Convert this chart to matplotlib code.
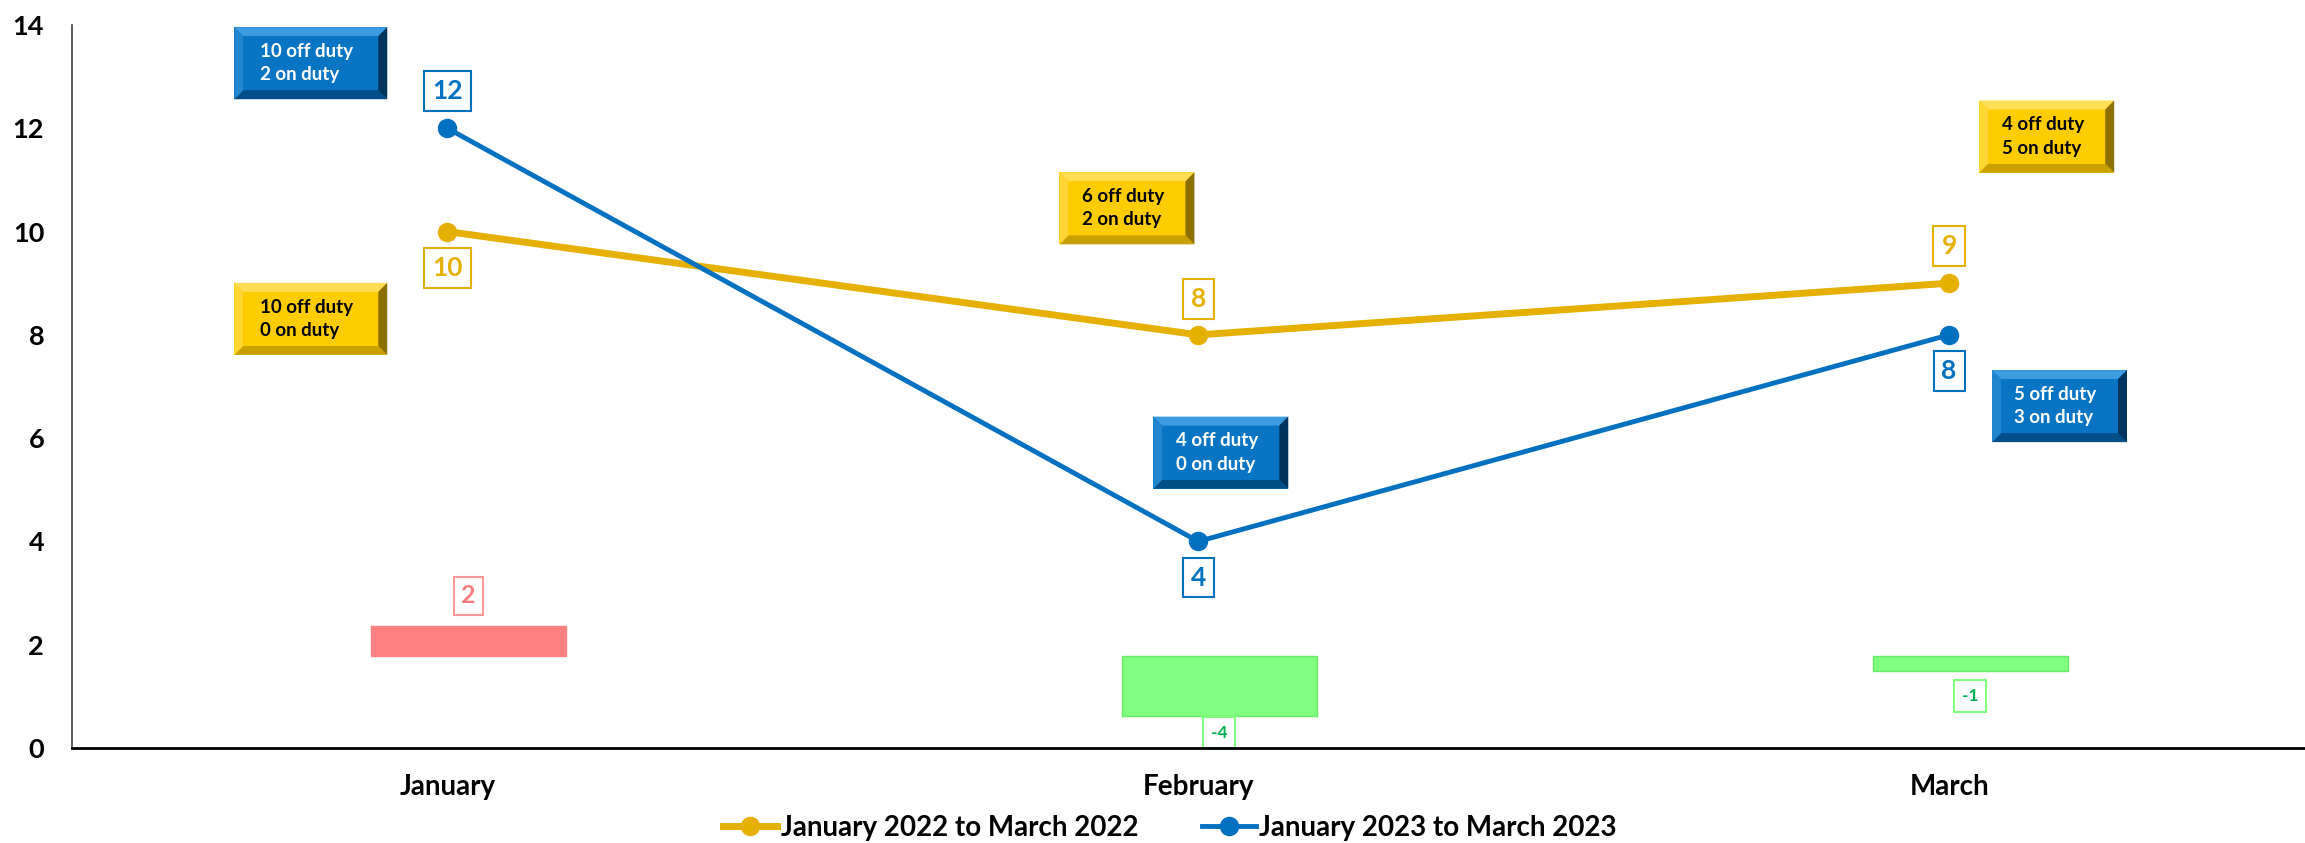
import matplotlib
matplotlib.use("Agg")
import matplotlib.pyplot as plt
from matplotlib.patches import Polygon, Rectangle
import numpy as np

plt.rcParams['font.family'] = ['Lato', 'DejaVu Sans']
plt.rcParams['font.weight'] = 'bold'

months = ['January', 'February', 'March']
series_2022 = [10, 8, 9]
series_2023 = [12, 4, 8]
off_2022 = [10, 6, 4]
on_2022 = [0, 2, 5]
off_2023 = [10, 4, 5]
on_2023 = [2, 0, 3]
y_ticks = [0, 2, 4, 6, 8, 10, 12, 14]
legend_labels = ['January 2022 to March 2022', 'January 2023 to March 2023']

diff = [b - a for a, b in zip(series_2022, series_2023)]

GOLD = '#E6B000'
BLUE = '#0070C0'
RED_BAR = '#FF8080'
GREEN_BAR = '#80FF80'

W, H = 2305, 843
fig = plt.figure(figsize=(W / 100, H / 100), dpi=100)
ax = fig.add_axes([72 / W, 95 / H, (W - 72) / W, 723 / H])
x = np.arange(len(months))

# secondary axis for the difference bars
ax2 = ax.twinx()
ax2.set_ylim(-6.14, 42.14)
ax2.axis('off')
bar_colors = [RED_BAR if d > 0 else GREEN_BAR for d in diff]
bar_edges = [RED_BAR if d > 0 else '#66EE66' for d in diff]
ax2.bar(x + 0.028, diff, width=0.26, color=bar_colors, edgecolor=bar_edges, linewidth=1, zorder=1)
for xi, d in zip(x, diff):
    if d > 0:
        ax2.annotate(str(d), (xi + 0.028, d), xytext=(0, 22), textcoords='offset points',
                     ha='center', va='center', fontsize=18, color='#FF7C80', fontweight='bold',
                     bbox=dict(boxstyle='square,pad=0.3', fc='white', ec='#FF9999', lw=1.5))
    else:
        ax2.annotate(str(d), (xi + 0.028, d), xytext=(0, -12 if d < -2 else -18), textcoords='offset points',
                     ha='center', va='center', fontsize=12.5, color='#00B050', fontweight='bold',
                     bbox=dict(boxstyle='square,pad=0.45', fc='white', ec='#80FF80', lw=1.5))

ax.plot(x, series_2022, color=GOLD, lw=5, marker='o', ms=13, zorder=3, label=legend_labels[0])
ax.plot(x, series_2023, color=BLUE, lw=3.5, marker='o', ms=13, zorder=4, label=legend_labels[1])

ax.set_zorder(ax2.get_zorder() + 1)
ax.patch.set_visible(False)

ax.set_xlim(-0.5, 2.474)
ax.set_ylim(0, 14)
ax.set_yticks(y_ticks)
ax.set_xticks(x)
ax.set_xticklabels(months)
ax.tick_params(axis='both', length=0)
ax.tick_params(axis='y', pad=20, labelsize=19.5)
ax.tick_params(axis='x', pad=19, labelsize=20)
for lab in ax.get_xticklabels() + ax.get_yticklabels():
    lab.set_fontweight('bold')
ax.spines['top'].set_visible(False)
ax.spines['right'].set_visible(False)
ax.spines['left'].set_color('#404040')
ax.spines['left'].set_linewidth(1.2)
ax.spines['bottom'].set_color('black')
ax.spines['bottom'].set_linewidth(2)

# value labels
offs_2022 = [-26, 26, 27]
offs_2023 = [27, -26, -26]
for xi, v, o in zip(x, series_2022, offs_2022):
    ax.annotate(str(v), (xi, v), xytext=(0, o), textcoords='offset points', ha='center', va='center',
                fontsize=19, color=GOLD, fontweight='bold',
                bbox=dict(boxstyle='square,pad=0.3', fc='white', ec=GOLD, lw=1.5), zorder=6)
for xi, v, o in zip(x, series_2023, offs_2023):
    ax.annotate(str(v), (xi, v), xytext=(0, o), textcoords='offset points', ha='center', va='center',
                fontsize=19, color=BLUE, fontweight='bold',
                bbox=dict(boxstyle='square,pad=0.3', fc='white', ec=BLUE, lw=1.5), zorder=6)

# beveled duty info boxes (decoration)
PX_X = 1 / 751.0   # data units per pixel, x
PX_Y = 1 / 51.64   # data units per pixel, y


def bevel_box(cx, cy, wpx, hpx, shades, text, tcolor):
    main, top, left, bottom, right = shades
    w, h = wpx * PX_X, hpx * PX_Y
    dx, dy = 9 * PX_X, 9 * PX_Y
    x0, x1, y0, y1 = cx - w / 2, cx + w / 2, cy - h / 2, cy + h / 2
    polys = [
        ([(x0, y1), (x1, y1), (x1 - dx, y1 - dy), (x0 + dx, y1 - dy)], top),
        ([(x0, y0), (x1, y0), (x1 - dx, y0 + dy), (x0 + dx, y0 + dy)], bottom),
        ([(x0, y0), (x0, y1), (x0 + dx, y1 - dy), (x0 + dx, y0 + dy)], left),
        ([(x1, y0), (x1, y1), (x1 - dx, y1 - dy), (x1 - dx, y0 + dy)], right),
    ]
    ax.add_patch(Rectangle((x0, y0), w, h, fc=main, ec='none', zorder=7))
    for pts, c in polys:
        ax.add_patch(Polygon(pts, closed=True, fc=c, ec='none', zorder=7))
    ax.add_patch(Rectangle((x0 + dx, y0 + dy), w - 2 * dx, h - 2 * dy, fc=main, ec='none', zorder=7))
    ax.text(cx - 4 * PX_X, cy, text, ha='center', va='center', multialignment='left',
            fontsize=13.5, color=tcolor, fontweight='bold', linespacing=1.45, zorder=8)


GOLD_SHADES = ('#FFCC00', '#FFDD55', '#FFD633', '#C9A000', '#8C7000')
BLUE_SHADES = ('#0874C4', '#3D9BE0', '#2286CF', '#004F88', '#00345C')

pos_2022 = [(-0.182, 8.31), (0.905, 10.45), (2.13, 11.84)]
pos_2023 = [(-0.182, 13.26), (1.03, 5.72), (2.147, 6.62)]
widths_px = [153, 135, 135]
for (bx, by), off, on, wp in zip(pos_2022, off_2022, on_2022, widths_px):
    bevel_box(bx, by, wp, 72, GOLD_SHADES, f"{off} off duty\n{on} on duty", 'black')
for (bx, by), off, on, wp in zip(pos_2023, off_2023, on_2023, widths_px):
    bevel_box(bx, by, wp, 72, BLUE_SHADES, f"{off} off duty\n{on} on duty", 'white')

leg = fig.legend(loc='center', bbox_to_anchor=(0.5076, 15 / H), ncol=2, frameon=False,
                 prop={'size': 20, 'weight': 'bold'}, handlelength=1.95, columnspacing=2.3,
                 handletextpad=0.12)

fig.savefig('out.png', dpi=100)
